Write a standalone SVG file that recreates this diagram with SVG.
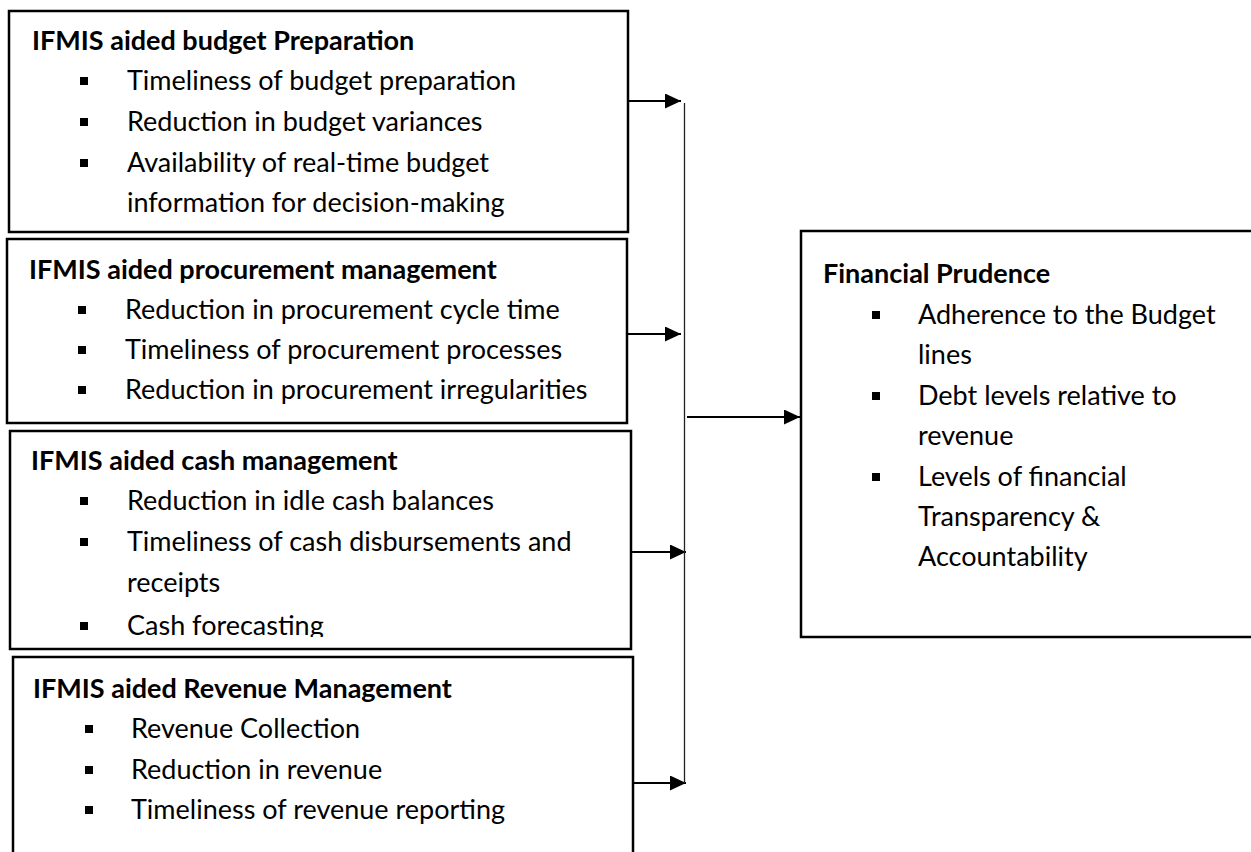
<svg xmlns="http://www.w3.org/2000/svg" width="1251" height="852" viewBox="0 0 1251 852">
<defs>
<style>
.box{fill:#fff;stroke:#000;stroke-width:2.5}
.t{font-family:Lato,"Open Sans","Liberation Sans",sans-serif;font-size:27px;fill:#000}
.h{font-weight:bold}
.sq{fill:#000}
.ln{stroke:#000;stroke-width:2.2;fill:none}
.vl{stroke:#222;stroke-width:1.3;fill:none}
</style>
<marker id="ah" markerUnits="userSpaceOnUse" markerWidth="16" markerHeight="15" refX="16" refY="7.5" orient="auto">
<path d="M0,0 L16,7.5 L0,15 Z" fill="#000"/>
</marker>
<clipPath id="c3"><rect x="0" y="431" width="640" height="206"/></clipPath>
</defs>
<rect width="1251" height="852" fill="#fff"/>

<g id="budget">
<rect class="box" x="9" y="11" width="619" height="221"/>
<text class="t h" x="32" y="50">IFMIS aided budget Preparation</text>
<rect class="sq" x="80" y="77" width="8" height="8"/>
<text class="t" x="127" y="90">Timeliness of budget preparation</text>
<rect class="sq" x="80" y="118" width="8" height="8"/>
<text class="t" x="127" y="131">Reduction in budget variances</text>
<rect class="sq" x="80" y="159" width="8" height="8"/>
<text class="t" x="127" y="172">Availability of real-time budget</text>
<text class="t" x="127" y="212">information for decision-making</text>
</g>

<g id="procurement">
<rect class="box" x="7" y="239" width="620" height="184"/>
<text class="t h" x="29" y="279">IFMIS aided procurement management</text>
<rect class="sq" x="78" y="306" width="8" height="8"/>
<text class="t" x="125" y="319">Reduction in procurement cycle time</text>
<rect class="sq" x="78" y="346" width="8" height="8"/>
<text class="t" x="125" y="359">Timeliness of procurement processes</text>
<rect class="sq" x="78" y="386" width="8" height="8"/>
<text class="t" x="125" y="399">Reduction in procurement irregularities</text>
</g>

<g id="cash">
<rect class="box" x="10" y="431" width="621" height="218"/>
<g clip-path="url(#c3)">
<text class="t h" x="31" y="470">IFMIS aided cash management</text>
<rect class="sq" x="80" y="497" width="8" height="8"/>
<text class="t" x="127" y="510">Reduction in idle cash balances</text>
<rect class="sq" x="80" y="538" width="8" height="8"/>
<text class="t" x="127" y="551">Timeliness of cash disbursements and</text>
<text class="t" x="127" y="592">receipts</text>
<rect class="sq" x="80" y="622" width="8" height="8"/>
<text class="t" x="127" y="635">Cash forecasting</text>
</g>
</g>

<g id="revenue">
<rect class="box" x="13" y="657" width="620" height="210"/>
<text class="t h" x="33" y="698">IFMIS aided Revenue Management</text>
<rect class="sq" x="85" y="725" width="8" height="8"/>
<text class="t" x="131" y="738">Revenue Collection</text>
<rect class="sq" x="85" y="766" width="8" height="8"/>
<text class="t" x="131" y="779">Reduction in revenue</text>
<rect class="sq" x="85" y="806" width="8" height="8"/>
<text class="t" x="131" y="819">Timeliness of revenue reporting</text>
</g>

<g id="prudence">
<rect class="box" x="801" y="231" width="470" height="406"/>
<text class="t h" x="823" y="283">Financial Prudence</text>
<rect class="sq" x="872" y="311" width="8" height="8"/>
<text class="t" x="918" y="324">Adherence to the Budget</text>
<text class="t" x="918" y="364">lines</text>
<rect class="sq" x="872" y="392" width="8" height="8"/>
<text class="t" x="918" y="405">Debt levels relative to</text>
<text class="t" x="918" y="445">revenue</text>
<rect class="sq" x="872" y="473" width="8" height="8"/>
<text class="t" x="918" y="486">Levels of financial</text>
<text class="t" x="918" y="526">Transparency &amp;</text>
<text class="t" x="918" y="566">Accountability</text>
</g>

<g id="connectors">
<line class="ln" x1="628" y1="101" x2="681" y2="101" marker-end="url(#ah)"/>
<line class="ln" x1="627" y1="334" x2="681" y2="334" marker-end="url(#ah)"/>
<line class="ln" x1="631" y1="552" x2="686" y2="552" marker-end="url(#ah)"/>
<line class="ln" x1="633" y1="783" x2="686" y2="783" marker-end="url(#ah)"/>
<line class="vl" x1="684.5" y1="103" x2="684.5" y2="783"/>
<line class="ln" x1="687" y1="417" x2="800" y2="417" marker-end="url(#ah)"/>
</g>
</svg>
